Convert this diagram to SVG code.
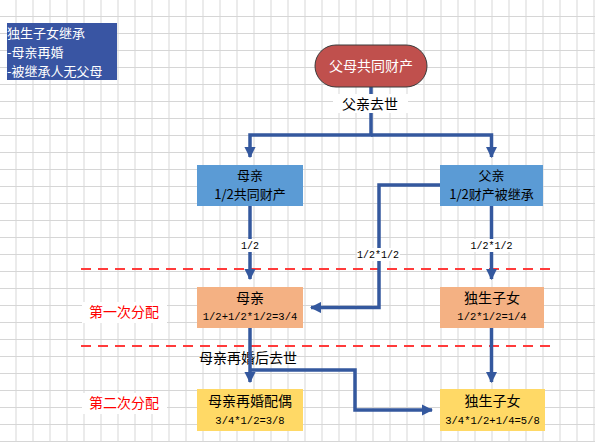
<svg xmlns="http://www.w3.org/2000/svg" width="595" height="442" viewBox="0 0 595 442">
<defs>
<pattern id="grid" x="15.5" y="16" width="17" height="17" patternUnits="userSpaceOnUse">
<path d="M0.5 0 V17 M0 0.5 H17" stroke="#d6d6d6" stroke-width="1" fill="none"/>
</pattern>
<marker id="arr" viewBox="0 0 10 10" refX="9" refY="5" markerWidth="3.2" markerHeight="3.2" orient="auto" markerUnits="strokeWidth">
<path d="M0 0 L10 5 L0 10 Z" fill="#34589e"/>
</marker>
<style>
.t{font-family:"Noto Sans CJK SC","Liberation Sans",sans-serif;text-anchor:middle;fill:#000}
.big{font-size:14px}
.mid{font-size:13px}
.sm{font-size:10.5px;font-family:"Liberation Mono","Noto Sans CJK SC",monospace}
.lbl{font-size:10px;font-family:"Liberation Mono","Noto Sans CJK SC",monospace;text-anchor:middle}
.c{fill:none;stroke:#34589e;stroke-width:3.5;stroke-linejoin:miter}
.red{font-family:"Noto Sans CJK SC",sans-serif;font-size:14px;fill:#ff0000;text-anchor:middle}
.dash{stroke:#ff3b3b;stroke-width:2;stroke-dasharray:10 7}
</style>
</defs>
<rect width="595" height="442" fill="#fff"/>
<rect width="595" height="442" fill="url(#grid)"/>

<g id="note">
<rect x="7" y="23" width="110" height="57" fill="#3955a3"/>
<text font-family="Noto Sans CJK SC,sans-serif" font-size="13" fill="#fff">
<tspan x="7" y="37.5">独生子女继承</tspan>
<tspan x="7" y="56.5">-母亲再婚</tspan>
<tspan x="7" y="75.5">-被继承人无父母</tspan>
</text>
</g>

<g id="dividers">
<line class="dash" x1="81" y1="269" x2="556" y2="269"/>
<line class="dash" x1="81" y1="346" x2="556" y2="346"/>
</g>

<g id="stage1">
<rect x="82" y="302" width="85" height="21" fill="#fff"/>
<text class="red" x="124" y="317">第一次分配</text>
</g>
<g id="stage2">
<rect x="82" y="393" width="85" height="21" fill="#fff"/>
<text class="red" x="124" y="408">第二次分配</text>
</g>

<g id="label-remarry">
<text class="t" x="248" y="363" font-size="14">母亲再婚后去世</text>
</g>

<g id="connectors">
<path class="c" d="M371 87 V135 H250 V157" marker-end="url(#arr)"/>
<path class="c" d="M371 135 H491.5 V157" marker-end="url(#arr)"/>
<path class="c" d="M250 206 V279" marker-end="url(#arr)"/>
<path class="c" d="M491.5 206 V279" marker-end="url(#arr)"/>
<path class="c" d="M440 185 H379 V307.5 H311" marker-end="url(#arr)"/>
<path class="c" d="M250 328 V382" marker-end="url(#arr)"/>
<path class="c" d="M250 370 H355 V410 H432" marker-end="url(#arr)"/>
<path class="c" d="M491.5 328 V382" marker-end="url(#arr)"/>
<rect x="333" y="94" width="75" height="19" fill="#fff"/>
<text class="t" x="370" y="109" font-size="14">父亲去世</text>
<rect x="240" y="239" width="20" height="13" fill="#fff"/>
<text class="lbl" x="250" y="249">1/2</text>
<rect x="470" y="239" width="43" height="13" fill="#fff"/>
<text class="lbl" x="491.5" y="249">1/2*1/2</text>
<rect x="357" y="248" width="43" height="13" fill="#fff"/>
<text class="lbl" x="378" y="258">1/2*1/2</text>
</g>

<g id="root">
<rect x="315" y="45" width="112" height="42" rx="21" fill="#c0504d" stroke="#3a3a3a" stroke-width="1"/>
<text class="t big" x="371" y="71" style="fill:#fff">父母共同财产</text>
</g>

<g id="mother">
<rect x="197" y="165" width="106" height="41" fill="#5b9bd5"/>
<text class="t mid" x="250" y="180">母亲</text>
<text class="t mid" x="250" y="199">1/2共同财产</text>
</g>

<g id="father">
<rect x="440" y="165" width="103" height="41" fill="#5b9bd5"/>
<text class="t mid" x="491.5" y="180">父亲</text>
<text class="t mid" x="491.5" y="199">1/2财产被继承</text>
</g>

<g id="mother2">
<rect x="197" y="287" width="106" height="41" fill="#f4b183"/>
<text class="t big" x="250" y="303">母亲</text>
<text class="t sm" x="250" y="320">1/2+1/2*1/2=3/4</text>
</g>

<g id="child1">
<rect x="440" y="287" width="104" height="41" fill="#f4b183"/>
<text class="t big" x="492" y="303">独生子女</text>
<text class="t sm" x="492" y="320">1/2*1/2=1/4</text>
</g>

<g id="spouse">
<rect x="197" y="389" width="106" height="42" fill="#ffd966"/>
<text class="t big" x="250" y="406">母亲再婚配偶</text>
<text class="t sm" x="250" y="424">3/4*1/2=3/8</text>
</g>

<g id="child2">
<rect x="440" y="389" width="105" height="42" fill="#ffd966"/>
<text class="t big" x="492.5" y="406">独生子女</text>
<text class="t sm" x="492.5" y="424">3/4*1/2+1/4=5/8</text>
</g>
</svg>
